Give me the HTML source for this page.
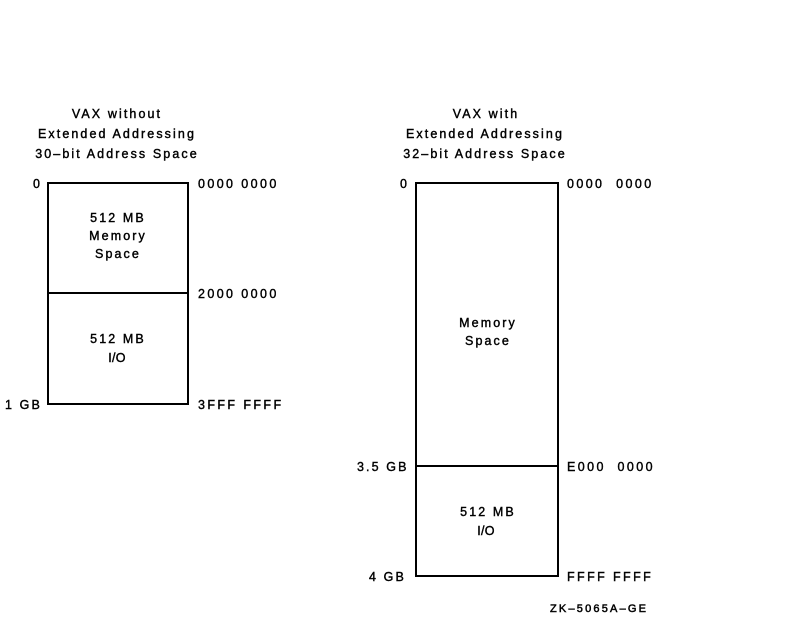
<!DOCTYPE html>
<html>
<head>
<meta charset="utf-8">
<style>
  html, body { margin: 0; padding: 0; background: #fff; }
  svg { display: block; }
  text { font-family: "Liberation Sans", Arial, sans-serif; font-size: 12.5px; fill: #000; stroke: #000; stroke-width: 0.4px; letter-spacing: 2.1px; white-space: pre; }
  .n { letter-spacing: 2.4px; }
  .io { letter-spacing: 0.3px; }
  .zk { font-size: 11px; letter-spacing: 2.2px; stroke-width: 0.5px; }
</style>
</head>
<body>
<svg width="788" height="619" viewBox="0 0 788 619" xmlns="http://www.w3.org/2000/svg" xml:space="preserve">
  <rect x="0" y="0" width="788" height="619" fill="#fff"/>

  <!-- Left diagram -->
  <text x="117" y="118" text-anchor="middle">VAX without</text>
  <text x="117" y="138" text-anchor="middle">Extended Addressing</text>
  <text x="117" y="158" text-anchor="middle">30–bit Address Space</text>

  <rect x="48" y="183" width="140" height="221" fill="none" stroke="#000" stroke-width="2"/>
  <line x1="48" y1="293" x2="188" y2="293" stroke="#000" stroke-width="2"/>

  <text x="33" y="188">0</text>
  <text x="5" y="409">1 GB</text>
  <text class="n" x="198" y="188">0000 0000</text>
  <text class="n" x="198" y="298">2000 0000</text>
  <text class="n" x="198" y="409">3FFF FFFF</text>

  <text x="118" y="222" text-anchor="middle">512 MB</text>
  <text x="118" y="240" text-anchor="middle">Memory</text>
  <text x="118" y="258" text-anchor="middle">Space</text>
  <text x="118" y="343" text-anchor="middle">512 MB</text>
  <text class="io" x="117" y="362" text-anchor="middle">I/O</text>

  <!-- Right diagram -->
  <text x="486" y="118" text-anchor="middle">VAX with</text>
  <text x="485" y="138" text-anchor="middle">Extended Addressing</text>
  <text x="485" y="158" text-anchor="middle">32–bit Address Space</text>

  <rect x="416" y="183" width="142" height="393" fill="none" stroke="#000" stroke-width="2"/>
  <line x1="416" y1="466" x2="558" y2="466" stroke="#000" stroke-width="2"/>

  <text x="400" y="188">0</text>
  <text x="357" y="471">3.5 GB</text>
  <text x="369" y="581">4 GB</text>
  <text class="n" x="567" y="188">0000  0000</text>
  <text class="n" x="567" y="471">E000  0000</text>
  <text class="n" x="567" y="581">FFFF FFFF</text>

  <text x="488" y="327" text-anchor="middle">Memory</text>
  <text x="488" y="345" text-anchor="middle">Space</text>
  <text x="488" y="516" text-anchor="middle">512 MB</text>
  <text class="io" x="486" y="535" text-anchor="middle">I/O</text>

  <text class="zk" x="550" y="612">ZK–5065A–GE</text>
</svg>
</body>
</html>
